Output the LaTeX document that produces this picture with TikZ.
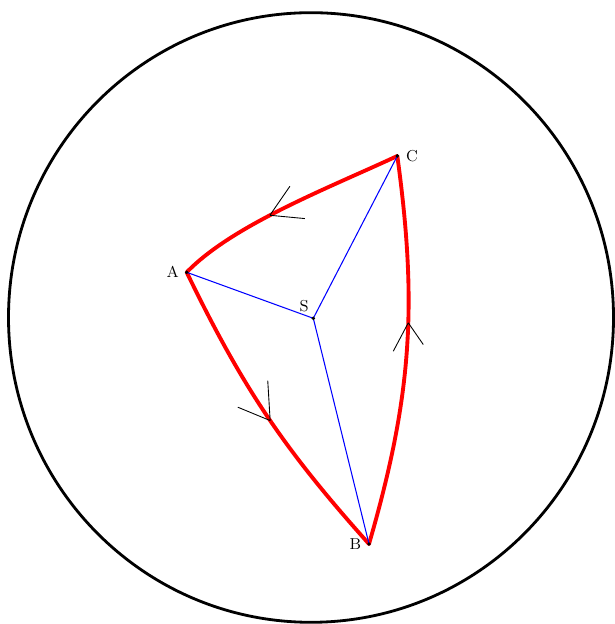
\documentclass[tikz,border=0pt]{standalone}
\usetikzlibrary{positioning}
\definecolor{rimD}{HTML}{000000}
\definecolor{sideD}{HTML}{FF0000}
\definecolor{rayD}{HTML}{0000FF}
\tikzset{
  rim/.style={draw=rimD, line width=1.6pt},
  side/.style={draw=sideD, line width=2.2pt, line cap=round, line join=round},
  ray/.style={draw=rayD, line width=0.6pt},
  barb/.style={draw=black, line width=0.5pt},
  pt/.style={circle, fill=black, inner sep=0pt, minimum size=2.2pt},
  lbl/.style={font=\small, inner sep=1pt},
}

\begin{document}
\begin{tikzpicture}[x=0.02cm, y=0.02cm]
\useasboundingbox (0,0) rectangle (614,624);
\draw[rim] (311,306.5) ellipse [x radius=302.5, y radius=304.8];
\coordinate (A) at (186.7,351.7);
\coordinate (B) at (369,80);
\coordinate (C) at (397.3,468);
\coordinate (S) at (313.3,305.7);
% sides, in the sense of the barbs
\draw[side] (A) to[bend right=8] coordinate[pos=0.52] (ab) (B);
\draw[side] (B) to[bend right=12] coordinate[pos=0.58] (bc) (C);
\draw[side] (C) to[out=205, in=46, out looseness=0.8, in looseness=0.7] coordinate[pos=0.56] (ca) (A);
\draw[ray] (S) -- (A);
\draw[ray] (S) -- (B);
\draw[ray] (S) -- (C);
\draw[barb] (ab) -- ++(-2.4,40) (ab) -- ++(-32.4,13.4);
\draw[barb] (bc) -- ++(-15,-28.4) (bc) -- ++(15,-21.7);
\draw[barb] (ca) -- ++(20,29) (ca) -- ++(35,-3.3);
\node[pt] (dotA) at (A) {};
\node[pt] (dotB) at (B) {};
\node[pt] (dotC) at (C) {};
\node[pt] (dotS) at (S) {};
\node[lbl, left=2pt of dotA] (labA) {A};
\node[lbl, left=2pt of dotB] (labB) {B};
\node[lbl, right=2.5pt of dotC] (labC) {C};
\node[lbl, above left=1.5pt and 0.5pt of dotS] (labS) {S};
\end{tikzpicture}
\end{document}
